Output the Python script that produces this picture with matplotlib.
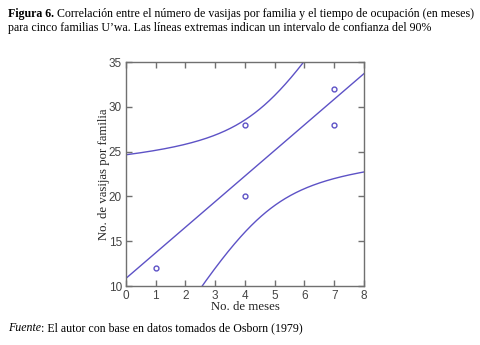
import numpy as np
import matplotlib
matplotlib.use("Agg")
import matplotlib.pyplot as plt

# Data
meses = [1, 4, 4, 7, 7]
vasijas = [12, 20, 28, 28, 32]
x_ticks = [0, 1, 2, 3, 4, 5, 6, 7, 8]
y_ticks = [10, 15, 20, 25, 30, 35]
F_90_2_3 = 5.46  # F(0.90; 2, 3) for Working-Hotelling band

title_bold = "Figura 6."
title_rest = (" Correlación entre el número de vasijas por familia y el tiempo de ocupación (en meses)")
title_line2 = "para cinco familias U\u2019wa. Las líneas extremas indican un intervalo de confianza del 90%"
source_it = "Fuente"
source_rest = ": El autor con base en datos tomados de Osborn (1979)"

x = np.array(meses, float)
y = np.array(vasijas, float)
n = len(x)
b, a = np.polyfit(x, y, 1)
res = y - (a + b * x)
s = np.sqrt(np.sum(res**2) / (n - 2))
sxx = np.sum((x - x.mean())**2)
W = np.sqrt(2 * F_90_2_3)
xs = np.linspace(0, 8, 400)
yfit = a + b * xs
half = W * s * np.sqrt(1 / n + (xs - x.mean())**2 / sxx)

fig = plt.figure(figsize=(4.8, 3.45), dpi=100)
ax = fig.add_axes([0.2625, 0.171, 0.4958, 0.649])
col = "#5d52c6"
ax.plot(xs, yfit, color=col, lw=1.0)
ax.plot(xs, yfit + half, color=col, lw=1.0)
ax.plot(xs, yfit - half, color=col, lw=1.0)
ax.plot(x, y, 'o', mfc='none', mec=col, ms=3.5, mew=1.0)
ax.set_xlim(0, 8)
ax.set_ylim(10, 35)
ax.set_xticks(x_ticks)
ax.set_yticks(y_ticks)
for sp in ax.spines.values():
    sp.set_color("#707070")
    sp.set_linewidth(1.0)
ax.tick_params(direction='in', length=4, width=1, color="#707070", top=True, right=True,
               labelsize=8.5, labelcolor="#444444")
ax.tick_params(axis='y', pad=3)
ax.tick_params(axis='x', pad=3)
for lab in ax.get_xticklabels() + ax.get_yticklabels():
    lab.set_family("Liberation Sans")
ax.set_xlabel("No. de meses", family="Liberation Serif", fontsize=9.2, labelpad=-1, color="#222222")
ax.set_ylabel("No. de vasijas por familia", family="Liberation Serif", fontsize=9.2, labelpad=-1, color="#222222")

fs = 8.6
y1, y2, y3 = 0.951, 0.909, 0.040
t1 = fig.text(0.017, y1, title_bold, fontsize=fs, weight='bold', family="Liberation Serif", va='baseline')
fig.canvas.draw()
bb = t1.get_window_extent()
fig.text(bb.x1 / fig.bbox.width, y1, title_rest, fontsize=fs, family="Liberation Serif", va='baseline')
fig.text(0.017, y2, title_line2, fontsize=fs, family="Liberation Serif", va='baseline')
t2 = fig.text(0.017, y3, source_it, fontsize=fs, style='italic', family="Liberation Serif", va='baseline')
fig.canvas.draw()
bb2 = t2.get_window_extent()
fig.text(bb2.x1 / fig.bbox.width, y3, source_rest, fontsize=fs, family="Liberation Serif", va='baseline')

fig.savefig("out.png", dpi=100)
